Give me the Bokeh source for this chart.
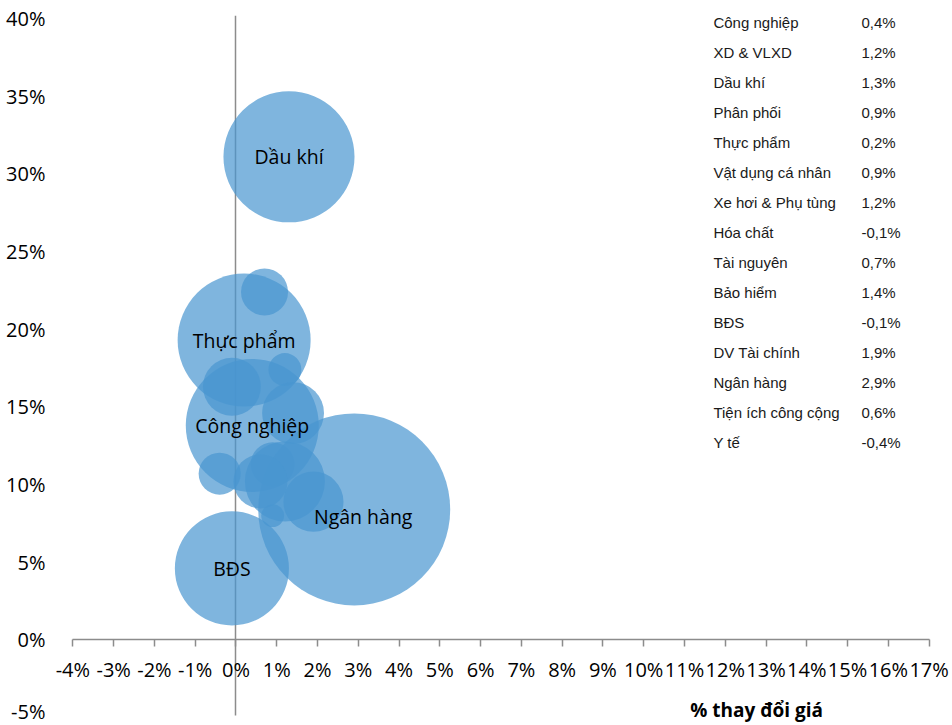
from bokeh.plotting import figure
from bokeh.models import (Label, LinearAxis, SingleIntervalTicker, FixedTicker,
                          PrintfTickFormatter, Range1d, ColumnDataSource)
from bokeh.core.properties import value
from bokeh.embed import file_html
from bokeh.resources import INLINE

# ---- data ----
sectors = ["Công nghiệp", "XD & VLXD", "Dầu khí", "Phân phối", "Thực phẩm",
           "Vật dụng cá nhân", "Xe hơi & Phụ tùng", "Hóa chất", "Tài nguyên",
           "Bảo hiểm", "BĐS", "DV Tài chính", "Ngân hàng", "Tiện ích công cộng", "Y tế"]
price_change = [0.4, 1.2, 1.3, 0.9, 0.2, 0.9, 1.2, -0.1, 0.7, 1.4, -0.1, 1.9, 2.9, 0.6, -0.4]
y_value = [13.8, 17.4, 31.1, 11.3, 19.3, 8.0, 10.2, 16.3, 22.4, 14.6, 4.6, 8.9, 8.4, 10.2, 10.7]
bubble_size = [48.0, 2.95, 46.6, 5.25, 48.0, 1.43, 17.4, 9.1, 6.0, 10.4, 35.3, 9.8, 100.0, 7.9, 4.8]
labeled = ["Dầu khí", "Thực phẩm", "Công nghiệp", "Ngân hàng", "BĐS"]
label_dx = [0, 0, 0, 9, 0]
label_dy = [0, 0, 0, 7, 0]
x_axis_bounds = (-4, 17)
y_axis_line_bounds = (-4.87, 40.2)
x_ticks_interval = 1
y_ticks_interval = 5

GRAY = "#8c8c8c"
FONT = "Open Sans"

p = figure(width=950, height=724, x_range=Range1d(-4.5, 17.5), y_range=Range1d(-5.45, 40.2),
           output_backend="svg", toolbar_location=None, x_axis_location=None,
           y_axis_location="left", min_border_left=52, min_border_right=1,
           min_border_top=15, min_border_bottom=0)
p.outline_line_color = None
p.grid.visible = False
p.background_fill_color = "white"

# y axis labels at the left
p.yaxis.ticker = SingleIntervalTicker(interval=y_ticks_interval)
p.yaxis.formatter = PrintfTickFormatter(format="%d%%")
p.yaxis.axis_line_color = None
p.yaxis.major_tick_line_color = None
p.yaxis.minor_tick_line_color = None
p.yaxis.major_label_standoff = 1
p.yaxis.major_label_text_font = FONT
p.yaxis.major_label_text_font_size = "20px"
p.yaxis.major_label_text_color = "black"

# vertical axis line crossing at x = 0 (under the bubbles)
vline = LinearAxis(fixed_location=0, bounds=y_axis_line_bounds, ticker=FixedTicker(ticks=[]),
                   axis_line_color=GRAY, axis_line_width=1.5,
                   major_tick_line_color=None, minor_tick_line_color=None, level="underlay")
p.add_layout(vline, "left")

# x axis crossing at y = 0
xaxis = LinearAxis(fixed_location=0, bounds=x_axis_bounds,
                   ticker=SingleIntervalTicker(interval=x_ticks_interval),
                   formatter=PrintfTickFormatter(format="%d%%"))
xaxis.axis_line_color = GRAY
xaxis.axis_line_width = 1.5
xaxis.major_tick_line_color = GRAY
xaxis.major_tick_line_width = 1.5
xaxis.major_tick_in = 0
xaxis.major_tick_out = 7
xaxis.minor_tick_line_color = None
xaxis.major_label_standoff = 9
xaxis.major_label_text_font = FONT
xaxis.major_label_text_font_size = "20px"
xaxis.major_label_text_color = "black"
p.add_layout(xaxis, "below")

# bubbles
src = ColumnDataSource(dict(
    x=price_change, y=y_value,
    d=[192 * (s / 100) ** 0.5 for s in bubble_size],
    name=sectors,
))
p.scatter("x", "y", size="d", source=src, marker="circle",
          fill_color="#4895d0", fill_alpha=0.7, line_color=None)

# bubble labels
lsrc = ColumnDataSource(dict(
    x=[price_change[sectors.index(n)] for n in labeled],
    y=[y_value[sectors.index(n)] for n in labeled],
    t=labeled, dx=label_dx, dy=label_dy,
))
p.text(x="x", y="y", text="t", x_offset="dx", y_offset="dy", source=lsrc,
       text_align="center", text_baseline="middle",
       text_font=value(FONT), text_font_size="19.5px", text_color="black")

# table top right
row_step = 1.932
ty = [39.75 - i * row_step for i in range(len(sectors))]
p.text(x=[11.71] * len(sectors), y=ty, text=sectors, text_align="left", text_baseline="middle",
       text_font=value("Liberation Sans"), text_font_size="15px", text_color="#1a1a1a")
vals = [("%.1f%%" % v).replace(".", ",") for v in price_change]
p.text(x=[15.34] * len(sectors), y=ty, text=vals, text_align="left", text_baseline="middle",
       text_font=value("Liberation Sans"), text_font_size="15px", text_color="#1a1a1a")

# axis title
p.add_layout(Label(x=12.77, y=-4.5, text="% thay đổi giá", text_align="center",
                   text_baseline="middle", text_font=FONT, text_font_style="bold",
                   text_font_size="19px", text_color="black"))

open("out.html", "w").write(file_html(p, INLINE))
